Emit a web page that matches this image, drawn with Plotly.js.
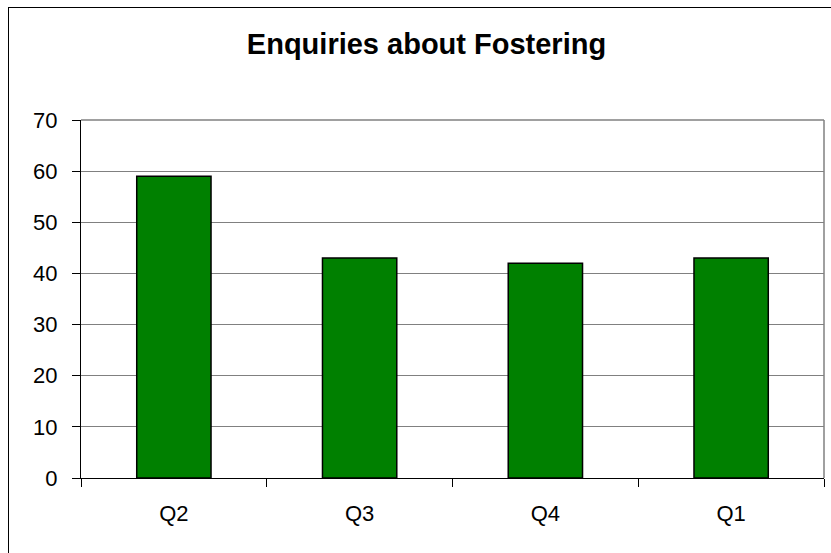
<!DOCTYPE html>
<html>
<head>
<meta charset="utf-8">
<script src="https://cdn.plot.ly/plotly-3.0.1.min.js"></script>
<style>
  html, body { margin: 0; padding: 0; background: #fff; overflow: hidden; }
  #wrap { position: absolute; left: 0; top: 0; width: 831px; height: 553px; overflow: hidden; }
  #frame { position: absolute; left: 8px; top: 7px; width: 1000px; height: 1000px; border: 1.5px solid #000; }
  #chart { position: absolute; left: 0; top: 0; width: 831px; height: 553px; }
</style>
</head>
<body>
<div id="wrap">
  <div id="frame"></div>
  <div id="chart"></div>
</div>
<script>
const categories = ["Q2", "Q3", "Q4", "Q1"];
const enquiries = [59, 43, 42, 43];
const yTickValues = [0, 10, 20, 30, 40, 50, 60, 70];
const chartTitle = "Enquiries about Fostering";

const trace = {
  type: "bar",
  x: categories,
  y: enquiries,
  marker: { color: "#008000", line: { color: "#000000", width: 1.5 } },
  hoverinfo: "x+y"
};

const layout = {
  width: 831,
  height: 553,
  paper_bgcolor: "rgba(0,0,0,0)",
  plot_bgcolor: "#ffffff",
  margin: { l: 81, r: 7, t: 120, b: 75, pad: 0 },
  bargap: 0.6,
  showlegend: false,
  font: { family: "Liberation Sans, Arial, sans-serif", size: 22, color: "#000" },
  title: {
    text: "<b>" + chartTitle + "</b>",
    font: { family: "Liberation Sans, Arial, sans-serif", size: 29, color: "#000" },
    xref: "container", x: 426.5 / 831, xanchor: "center",
    yref: "container", y: 1 - 44 / 553, yanchor: "middle"
  },
  xaxis: {
    type: "category",
    showgrid: false,
    showline: true,
    linecolor: "#000",
    linewidth: 1,
    ticks: "outside",
    tickson: "boundaries",
    ticklen: 8,
    tickcolor: "#000",
    ticklabelstandoff: 16,
    tickfont: { size: 22, color: "#000" },
    mirror: false
  },
  yaxis: {
    range: [0, 70],
    tickvals: yTickValues,
    ticktext: yTickValues.map(String),
    showgrid: true,
    gridcolor: "#808080",
    gridwidth: 1,
    zeroline: false,
    showline: true,
    linecolor: "#000",
    linewidth: 1,
    ticks: "outside",
    ticklen: 8,
    tickcolor: "#000",
    ticklabelstandoff: 10,
    tickfont: { size: 22, color: "#000" }
  },
  shapes: [
    { type: "line", xref: "paper", yref: "paper", x0: 1, x1: 1, y0: 0, y1: 1,
      line: { color: "#808080", width: 1.5 } },
    { type: "line", xref: "paper", yref: "paper", x0: 0, x1: 1, y0: 1, y1: 1,
      line: { color: "#808080", width: 1.5 } }
  ]
};

Plotly.newPlot("chart", [trace], layout, { displayModeBar: false, staticPlot: true });
</script>
</body>
</html>
